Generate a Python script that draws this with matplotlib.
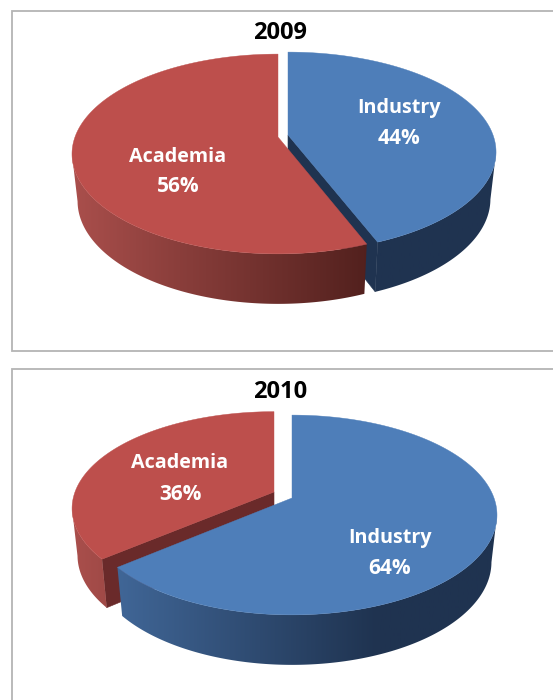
import numpy as np
import matplotlib
matplotlib.use("Agg")
import matplotlib.pyplot as plt
from matplotlib.patches import Polygon, Rectangle
from matplotlib.colors import to_rgb

# ---- data ----
years = ["2009", "2010"]
categories = ["Industry", "Academia"]
shares_2009 = [44, 56]
shares_2010 = [64, 36]

plt.rcParams["font.family"] = ["Open Sans", "DejaVu Sans"]

# ---- style ----
TOP = {"Industry": "#4e7eb9", "Academia": "#bd4f4c"}
LIGHT = {"Industry": "#466fa3", "Academia": "#aa4f4c"}
DARK = {"Industry": "#1f3350", "Academia": "#4f1f1c"}
CUT = {"Industry": "#1f3350", "Academia": "#6a2a2a"}

K = 0.17                                   # perspective
SHRINK_X, SCALE_Y, DROP = 0.973, 1.03, 46.5   # lower rim relative to the upper rim
X_LEFT, X_RIGHT = 72.0, 496.0


def rim(theta, g):
    x0, y0, a, b = g
    u, v = np.sin(theta), -np.cos(theta)
    w = 1 - K * v
    return x0 + a * u / w, y0 + b * v / w


def lower(x, y, g):
    x0, y0 = g[0], g[1]
    return x0 + SHRINK_X * (x - x0), y0 + SCALE_Y * (y - y0) + DROP


def side_colours(name, x):
    t = np.clip((x - X_LEFT) / (X_RIGHT - X_LEFT) / 0.72, 0, 1)[:, None]
    a, b = np.array(to_rgb(LIGHT[name])), np.array(to_rgb(DARK[name]))
    return a + (b - a) * t


def draw_slice(ax, name, a, b, g, z):
    x0, y0 = g[0], g[1]
    # faces of the cut, where they turn toward the viewer
    for ang, visible in ((b, np.sin(b) > 0), (a, np.sin(a) < 0)):
        if visible:
            x, y = rim(ang, g)
            xb, yb = lower(x, y, g)
            ax.add_patch(Polygon([(x0, y0), (x, y), (xb, yb), (x0, y0 + DROP)],
                                 closed=True, fc=CUT[name], ec=CUT[name], lw=0.4, zorder=z))
    th = np.linspace(a, b, 400)
    # outer wall with a smooth left-to-right shade
    front = th[-np.cos(th) >= K]
    if front.size > 1:
        xs, ys = rim(front, g)
        xl, yl = lower(xs, ys, g)
        outline = np.column_stack((np.r_[xs, xl[::-1]], np.r_[ys, yl[::-1]]))
        shade_x = np.linspace(X_LEFT - 20, X_RIGHT + 20, 512)
        grad = side_colours(name, shade_x)[None, :, :]
        im = ax.imshow(grad, extent=[shade_x[0], shade_x[-1], 700, 0], aspect="auto",
                       interpolation="bilinear", zorder=z + 0.1)
        im.set_clip_path(Polygon(outline, closed=True, transform=ax.transData))
    # top face
    xs, ys = rim(th, g)
    pts = [(x0, y0)] + list(zip(xs, ys))
    ax.add_patch(Polygon(pts, closed=True, fc=TOP[name], ec=TOP[name], lw=0.3, zorder=z + 0.2))


def draw_pie(ax, shares, geom):
    total = sum(shares)
    edges = np.concatenate(([0.0], np.cumsum(shares))) / total * 2 * np.pi
    for z, i in enumerate(np.argsort(shares)):      # the smaller slice lies behind
        name = categories[i]
        draw_slice(ax, name, edges[i], edges[i + 1], geom[name], 2 + z)


fig = plt.figure(figsize=(5.53, 7.0), dpi=100, facecolor="white")
ax = fig.add_axes([0, 0, 1, 1])

# panel frames (they run off the image)
for top, h in ((10.5, 340.5), (368.5, 345)):
    ax.add_patch(Rectangle((11.5, top), 560, h, fc="white", ec="#b4b4b4", lw=1.3, zorder=1))

draw_pie(ax, shares_2009, {"Industry": (288, 135, 205, 97), "Academia": (278, 137, 203, 97)})
draw_pie(ax, shares_2010, {"Industry": (292, 498, 202, 97), "Academia": (274, 492, 199, 94)})

ax.set_xlim(0, 553)
ax.set_ylim(700, 0)
ax.axis("off")

# title and label layout
title_pos = {"2009": (280, 33), "2010": (280, 392)}
label_pos = {
    "2009": {"Industry": (399, 108, 138), "Academia": (178, 157, 187)},
    "2010": {"Industry": (390, 538, 569), "Academia": (180, 463, 494)},
}
for yr, shares in zip(years, (shares_2009, shares_2010)):
    ax.text(*title_pos[yr], yr, ha="center", va="center", fontsize=17,
            fontweight="bold", color="black", zorder=10)
    for name, val in zip(categories, shares):
        x, y1, y2 = label_pos[yr][name]
        ax.text(x, y1, name, ha="center", va="center", fontsize=14.2,
                fontweight="bold", color="white", zorder=10)
        ax.text(x, y2, f"{val}%", ha="center", va="center", fontsize=15,
                fontweight="bold", color="white", zorder=10)

fig.savefig("out.png", dpi=100)
